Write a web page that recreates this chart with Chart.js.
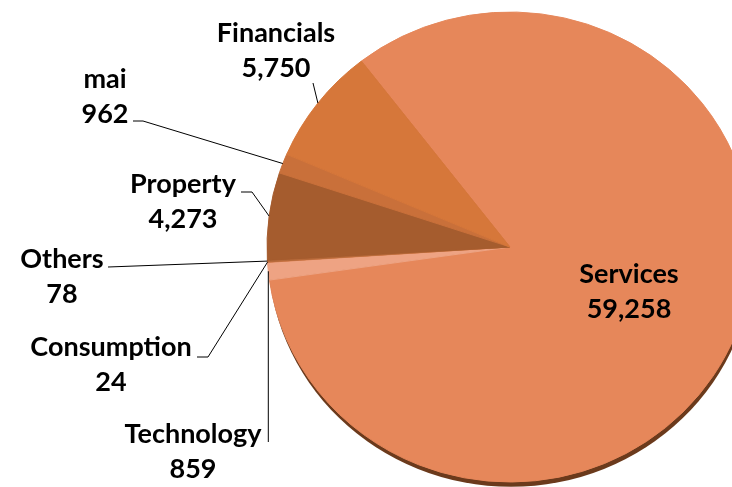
<!DOCTYPE html>
<html>
<head>
<meta charset="utf-8">
<script src="https://cdn.jsdelivr.net/npm/chart.js@4/dist/chart.umd.min.js"></script>
<style>
  html, body { margin: 0; padding: 0; background: #fff; }
  #wrap { width: 732px; height: 487px; overflow: hidden; }
</style>
</head>
<body>
<div id="wrap"><canvas id="sectorChart" width="780" height="487"></canvas></div>
<script>
// slices go clockwise starting with Services
var categories = ['Services', 'Technology', 'Consumption', 'Others', 'Property', 'mai', 'Financials'];
var values = [59258, 859, 24, 78, 4273, 962, 5750];
var sliceColors = ['#e6875a', '#eea383', '#d98050', '#b86a3a', '#a55c2e', '#c9703a', '#d6773a'];

var labelFont = 'bold 27px Lato';
var lineGap = 35;
var squash = 235 / 243; // the pie is a little flattened, like a tilted 3D pie

// where each label sits, and the leader points on the label side
var labelLayout = {
  Services:    { x: 629, y: 274 },
  Technology:  { x: 193, y: 434, drop: 442 },
  Consumption: { x: 111, y: 347, leader: [[197, 357], [208, 357]] },
  Others:      { x: 62,  y: 259, leader: [[108, 267]] },
  Property:    { x: 183, y: 184, leader: [[241, 192], [252, 192]] },
  mai:         { x: 105, y: 79,  leader: [[133, 121], [143, 121]] },
  Financials:  { x: 276, y: 33,  leader: [[313, 83]] }
};

function edgePoint(arc) {
  var mid = (arc.startAngle + arc.endAngle) / 2;
  return [arc.x + Math.cos(mid) * arc.outerRadius, arc.y + Math.sin(mid) * arc.outerRadius * squash];
}

var tiltPlugin = {
  id: 'tilt',
  beforeDatasetsDraw: function (chart) {
    var arc = chart.getDatasetMeta(0).data[0];
    var ctx = chart.ctx;
    ctx.save();
    ctx.translate(arc.x, arc.y);
    ctx.scale(1, squash);
    ctx.translate(-arc.x, -arc.y);
    // dark rim showing under the bottom edge
    ctx.beginPath();
    ctx.arc(arc.x + 1, arc.y + 5, arc.outerRadius, 0, Math.PI * 2);
    ctx.fillStyle = '#6b3a1c';
    ctx.fill();
  },
  afterDatasetsDraw: function (chart) {
    chart.ctx.restore();
  }
};

var labelPlugin = {
  id: 'sectorLabels',
  afterDraw: function (chart) {
    var ctx = chart.ctx;
    var arcs = chart.getDatasetMeta(0).data;
    ctx.save();
    ctx.font = labelFont;
    ctx.textAlign = 'center';
    ctx.textBaseline = 'middle';
    ctx.fillStyle = '#000';
    ctx.strokeStyle = '#000';
    ctx.lineWidth = 1;
    categories.forEach(function (name, i) {
      var lay = labelLayout[name];
      ctx.fillText(name, lay.x, lay.y);
      ctx.fillText(values[i].toLocaleString('en-US'), lay.x, lay.y + lineGap);

      var end = edgePoint(arcs[i]);
      var pts = null;
      if (lay.leader) pts = lay.leader.concat([end]);
      if (lay.drop) pts = [[end[0], lay.drop], end];
      if (!pts) return;
      ctx.beginPath();
      ctx.moveTo(pts[0][0], pts[0][1]);
      for (var k = 1; k < pts.length; k++) ctx.lineTo(pts[k][0], pts[k][1]);
      ctx.stroke();
    });
    ctx.restore();
  }
};

function draw() {
  new Chart(document.getElementById('sectorChart'), {
    type: 'pie',
    data: {
      labels: categories,
      datasets: [{
        data: values,
        backgroundColor: sliceColors,
        borderColor: sliceColors,
        borderWidth: 1,
        clip: false
      }]
    },
    options: {
      responsive: false,
      animation: false,
      rotation: -37.7,
      radius: 243,
      layout: { padding: { left: 267, right: 27, top: 10, bottom: 3 } },
      plugins: {
        legend: { display: false },
        tooltip: { enabled: false }
      }
    },
    plugins: [tiltPlugin, labelPlugin]
  });
}

document.fonts.load(labelFont).then(draw, draw);
</script>
</body>
</html>
